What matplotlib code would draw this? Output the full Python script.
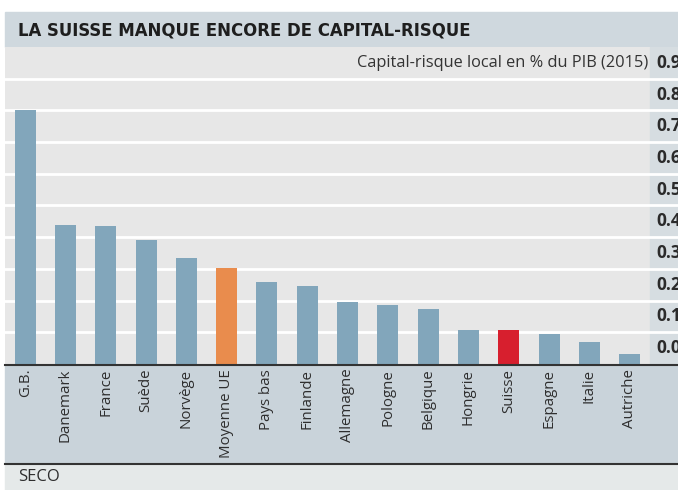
import matplotlib
matplotlib.use("Agg")
import matplotlib.pyplot as plt
from matplotlib.patches import Rectangle
from matplotlib import font_manager as fm

pays = ["G.B.", "Danemark", "France", "Suède", "Norvège", "Moyenne UE", "Pays bas",
        "Finlande", "Allemagne", "Pologne", "Belgique", "Hongrie", "Suisse",
        "Espagne", "Italie", "Autriche"]
valeurs = [0.80, 0.44, 0.435, 0.39, 0.333, 0.304, 0.259, 0.246, 0.195, 0.185,
           0.174, 0.107, 0.107, 0.095, 0.068, 0.033]
ticks = [0.0, 0.1, 0.2, 0.3, 0.4, 0.5, 0.6, 0.7, 0.8, 0.9]
tick_labels = ["0.0", "0.1", "0.2", "0.3", "0.4", "0.5", "0.6", "0.7", "0.8", "0.9"]

bleu = "#82a6bb"
couleurs = [bleu] * len(pays)
couleurs[pays.index("Moyenne UE")] = "#e98c4d"
couleurs[pays.index("Suisse")] = "#d71f2e"

installed = {f.name for f in fm.fontManager.ttflist}
narrow = "Liberation Sans Narrow" if "Liberation Sans Narrow" in installed else "DejaVu Sans"
txt_font = "Open Sans" if "Open Sans" in installed else "DejaVu Sans"

W, H = 678, 490
fig = plt.figure(figsize=(W / 100, H / 100), dpi=100)
fig.patch.set_facecolor("white")

def fx(px):
    return px / W

def fy(py):
    return 1 - py / H

# bandeaux de fond
fig.add_artist(Rectangle((fx(5), fy(47)), fx(673), 35 / H, color="#cfd8de", zorder=0))
fig.add_artist(Rectangle((fx(5), fy(464)), fx(673), 99 / H, color="#c9d3da", zorder=0))
fig.add_artist(Rectangle((fx(5), 0), fx(673), 26 / H, color="#e5e9e9", zorder=0))

ax = fig.add_axes([fx(5), fy(364), fx(673), 317 / H])
ax.set_facecolor("#e7e7e7")
x = list(range(len(pays)))
ax.bar(x, valeurs, width=0.52, color=couleurs, zorder=2)
ax.set_xlim(-0.5, -0.5 + 673 / 40.3)
ax.set_ylim(0, 1.0)
ax.axvspan(len(pays) - 0.5, 20, color="#d6dde1", zorder=0.2)
ax.set_yticks(ticks[1:])
ax.yaxis.grid(True, color="white", lw=2)
ax.set_axisbelow(True)
ax.tick_params(left=False, bottom=False, labelleft=False, labelbottom=False)
for s in ax.spines.values():
    s.set_visible(False)

# les étiquettes de droite sont coupées au bord, comme dans l'original
trans = ax.get_yaxis_transform()
for t, lab in zip(ticks, tick_labels):
    ax.text(651 / 673, t + 0.05, lab, transform=trans, ha="left", va="center",
            fontsize=12.5, fontweight="bold", color="#2b2b2b", family=txt_font)

for i, p in enumerate(pays):
    ax.text(i, -0.015, p, rotation=90, ha="center", va="top", fontsize=10.8,
            color="#2e2e2e", family=txt_font, clip_on=False)

ax.text(643 / 673, 0.948, "Capital-risque local en % du PIB (2015)", transform=ax.transAxes,
        ha="right", va="center", fontsize=11.8, color="#333333", family=txt_font)

# lignes
fig.add_artist(plt.Line2D([fx(5), 1], [fy(365), fy(365)], color="#333333", lw=1.5))
fig.add_artist(plt.Line2D([fx(5), 1], [fy(464), fy(464)], color="#333333", lw=1.5))

fig.text(fx(18), fy(31), "LA SUISSE MANQUE ENCORE DE CAPITAL-RISQUE", ha="left", va="center",
         fontsize=13.2, fontweight="bold", fontstretch="condensed", color="#1e1e1e", family=narrow)
fig.text(fx(18), fy(477), "SECO", ha="left", va="center", fontsize=12,
         color="#2e2e2e", family=txt_font)

plt.savefig("out.png", dpi=100)
